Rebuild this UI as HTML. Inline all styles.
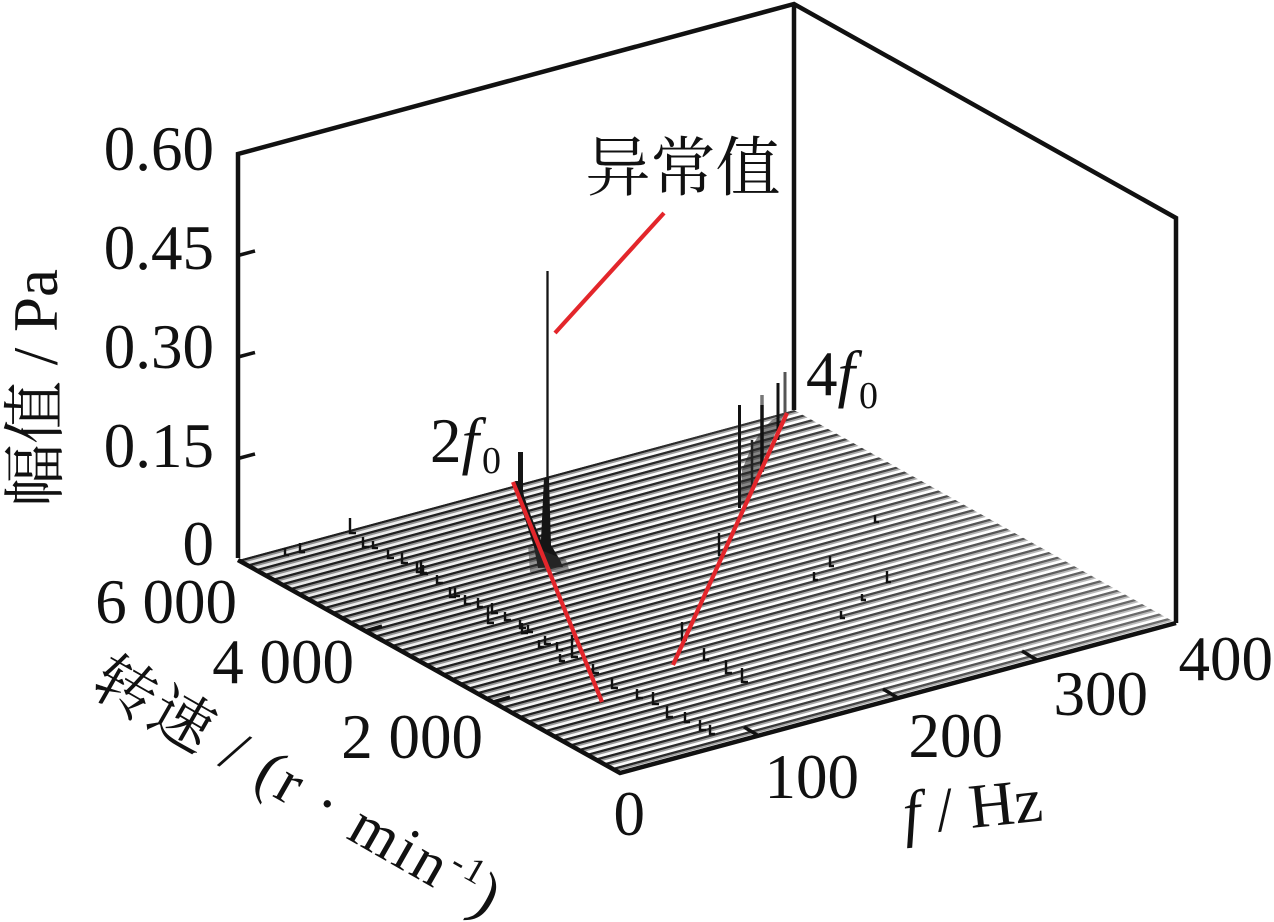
<!DOCTYPE html>
<html>
<head>
<meta charset="utf-8">
<style>
html,body{margin:0;padding:0;background:#fff;}
svg{display:block;}
text{font-family:"Liberation Serif","Noto Serif CJK SC",serif;fill:#111;}
</style>
</head>
<body>
<svg width="1274" height="922" viewBox="0 0 1274 922" xmlns="http://www.w3.org/2000/svg">
<defs>
  <pattern id="stripes" patternUnits="userSpaceOnUse" width="20" height="7.024" patternTransform="translate(0,624.2) skewY(-15.1)">
    <rect x="0" y="0" width="20" height="2.4" fill="#222"/>
    <rect x="0" y="2.4" width="20" height="1.8" fill="#9a9a9a"/>
  </pattern>
  <linearGradient id="lighten" gradientUnits="userSpaceOnUse" x1="600" y1="0" x2="1176" y2="0">
    <stop offset="0" stop-color="#fff" stop-opacity="0"/>
    <stop offset="1" stop-color="#fff" stop-opacity="0.35"/>
  </linearGradient>
  <linearGradient id="darken" gradientUnits="userSpaceOnUse" x1="240" y1="0" x2="720" y2="0">
    <stop offset="0" stop-color="#000" stop-opacity="0.10"/>
    <stop offset="1" stop-color="#000" stop-opacity="0"/>
  </linearGradient>
</defs>
<rect width="1274" height="922" fill="#fff"/>

<!-- floor -->
<polygon points="238,560 620,773 1176,623 794,410" fill="url(#stripes)"/>
<polygon points="238,560 620,773 1176,623 794,410" fill="url(#lighten)"/>
<polygon points="238,560 620,773 1176,623 794,410" fill="url(#darken)"/>

<!-- small peaks along floor -->
<g stroke="#111" stroke-width="2.4" fill="none">
  <path d="M350 518V533h6M363 537V547h6M373 541V548h5M388 550V558h6M402 553V563h6M417 562V572h6M423 565V574h5M437 575V583h6M450 587V597h6M465 595V604h6M478 598V607h5M492 603V613h6M505 612V620h6M520 620V628h6M528 625V632h5M545 636V644h6M557 642V650h6M593 664V673h6M612 678V688h6M637 689V698h6M653 692V704h6M667 706V717h6M685 712V722h5M700 720V730h6M710 725V734h5"/>
  <path d="M421 560V573h6M455 588V596h5M488 607V623h6M522 623V633h6M539 640V647h5M560 654V661h5M572 635V657h6"/>
  <path d="M719 533V555h5M682 622V640h5M726 660V673h6M742 668V682h6M704 648V660h5"/>
  <path d="M830 556V566h4M814 572V580h4M887 571V582h4M862 594V600h4M841 611V618h4M875 515V522h4M300 543V552h5M285 548V555h4"/>
</g>

<!-- 2f0 cluster -->
<polygon points="515,481 521,481 524,496 531,516 541,540 544,478 549,478 551,545 560,560 563,567 538,568 534,547 526,522 518,498" fill="#151515"/>
<polygon points="528,545 566,560 570,572 530,572" fill="#333" opacity="0.5"/>
<rect x="518" y="452" width="5" height="42" fill="#151515"/>
<line x1="547.5" y1="271" x2="547.5" y2="482" stroke="#151515" stroke-width="2.3"/>

<!-- 4f0 cluster -->
<polygon points="742,470 752,446 762,430 772,420 784,414 774,436 764,458 754,482 746,502 740,506" fill="#222" opacity="0.55"/>
<line x1="739.5" y1="405" x2="739.5" y2="508" stroke="#111" stroke-width="3"/>
<line x1="762" y1="405" x2="762" y2="472" stroke="#111" stroke-width="3.5"/>
<line x1="762" y1="395" x2="762" y2="405" stroke="#777" stroke-width="3.5"/>
<line x1="778" y1="383" x2="778" y2="440" stroke="#111" stroke-width="3"/>
<line x1="785" y1="372" x2="785" y2="420" stroke="#555" stroke-width="3"/>
<line x1="752" y1="440" x2="752" y2="490" stroke="#222" stroke-width="2.5"/>

<!-- box -->
<g stroke="#111" stroke-width="4.5" fill="none" stroke-linejoin="miter">
  <polyline points="238,558 238,154 794,4 1176,218 1176,623"/>
  <line x1="794" y1="4" x2="794" y2="410"/>
  <polyline points="238,560 620,773 1176,623"/>
</g>
<!-- ticks -->
<g stroke="#111" stroke-width="3.5">
  <line x1="238" y1="458.5" x2="255" y2="454"/>
  <line x1="238" y1="357" x2="255" y2="352.5"/>
  <line x1="238" y1="255.5" x2="255" y2="251"/>
  <line x1="493" y1="702" x2="510" y2="697"/>
  <line x1="365" y1="631" x2="382" y2="626"/>
  <line x1="759" y1="736" x2="744" y2="727"/>
  <line x1="898" y1="698" x2="883" y2="689"/>
  <line x1="1037" y1="660" x2="1022" y2="651"/>
</g>

<!-- red guide lines -->
<g stroke="#e3262b" stroke-width="4.2" stroke-linecap="butt">
  <line x1="513" y1="482" x2="602" y2="702"/>
  <line x1="673" y1="665" x2="787" y2="413"/>
  <line x1="555" y1="333" x2="664" y2="213"/>
</g>

<!-- z tick labels -->
<g font-size="63" text-anchor="end">
  <text x="214" y="170">0.60</text>
  <text x="214" y="269">0.45</text>
  <text x="214" y="368">0.30</text>
  <text x="214" y="467">0.15</text>
  <text x="214" y="565">0</text>
</g>
<!-- rpm tick labels -->
<g font-size="63" text-anchor="end">
  <text x="237" y="623">6 000</text>
  <text x="354" y="683">4 000</text>
  <text x="483" y="758">2 000</text>
  <text x="645" y="835">0</text>
</g>
<!-- f tick labels -->
<g font-size="63" text-anchor="end">
  <text x="859" y="798">100</text>
  <text x="1003" y="757">200</text>
  <text x="1148" y="715">300</text>
  <text x="1273" y="680">400</text>
</g>

<!-- axis titles -->
<text transform="translate(57,388) rotate(-90)" font-size="63" text-anchor="middle">幅值 / Pa</text>
<text transform="translate(905,835) rotate(-6)" font-size="63"><tspan font-style="italic">f</tspan> / Hz</text>
<text transform="translate(88,691) rotate(29.7)" font-size="62" textLength="458" lengthAdjust="spacing">转速 / (r · min<tspan font-size="36" dy="-24">-1</tspan><tspan dy="24">)</tspan></text>

<!-- annotations -->
<text x="683" y="190" font-size="65" text-anchor="middle">异常值</text>
<text x="430" y="462" font-size="63">2<tspan font-style="italic">f</tspan><tspan font-size="38" dx="3" dy="11">0</tspan></text>
<text x="806" y="395" font-size="63">4<tspan font-style="italic">f</tspan><tspan font-size="38" dx="4" dy="13">0</tspan></text>
</svg>
</body>
</html>
